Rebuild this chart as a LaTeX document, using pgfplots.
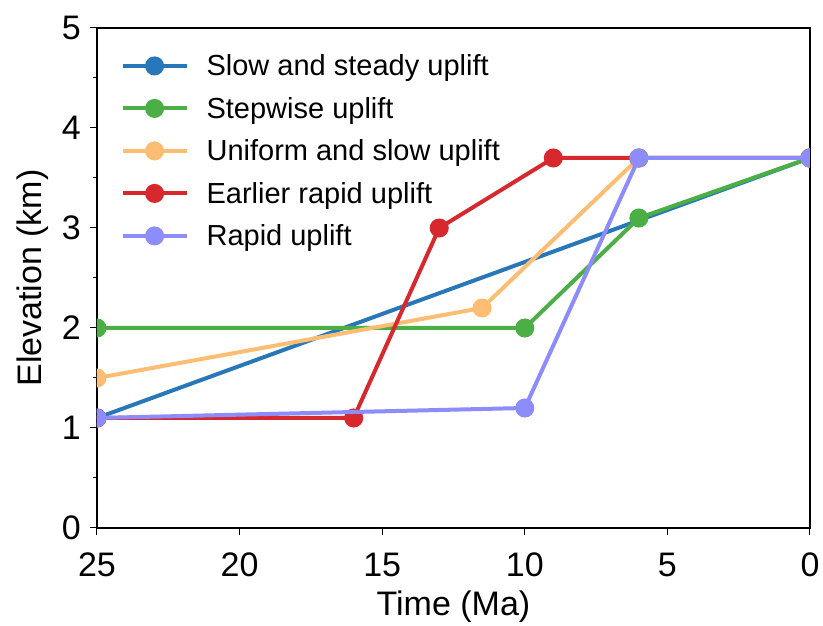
\documentclass[border=0pt]{standalone}
\usepackage{pgfplots}
\pgfplotsset{compat=1.18}
\usepackage{fontspec}
\setmainfont{Liberation Sans}

\definecolor{cslow}{RGB}{40,120,185}
\definecolor{cstep}{RGB}{75,175,70}
\definecolor{cunif}{RGB}{253,190,115}
\definecolor{cearly}{RGB}{214,40,45}
\definecolor{crapid}{RGB}{140,140,250}

\newcommand{\tickfont}{\fontsize{34bp}{40bp}\selectfont}
\newcommand{\legfont}{\fontsize{29bp}{34bp}\selectfont}

\pgfplotsset{clip marker paths=true}

\begin{document}
\begin{tikzpicture}
\begin{axis}[
  scale only axis,
  width=713bp, height=500bp,
  x dir=reverse,
  xmin=0, xmax=25, ymin=0, ymax=5,
  xtick={0,5,10,15,20,25},
  ytick={0,1,2,3,4,5},
  minor ytick={0.5,1.5,2.5,3.5,4.5},
  tick align=outside,
  major tick length=7bp, minor tick length=4bp,
  tick style={black, line width=1bp},
  axis line style={line width=1.2bp},
  xtick pos=bottom, ytick pos=left,
  xlabel={Time (Ma)}, ylabel={Elevation (km)},
  ticklabel style={font=\tickfont},
  xticklabel style={inner xsep=2bp, inner ysep=18bp},
  yticklabel style={inner sep=9bp},
  label style={font=\tickfont},
  xlabel style={yshift=8bp},
  ylabel style={yshift=1bp},
  /pgf/number format/assume math mode=true,
  clip mode=individual,
  clip marker paths=true,
  legend style={draw=none, fill=none, at={(0.03,0.955)}, anchor=north west,
    font=\legfont, row sep=16bp, inner sep=2bp},
  legend cell align=left,
  legend image code/.code={\draw[mark repeat=2,mark phase=2]
    plot coordinates {(0bp,0bp) (32bp,0bp) (64bp,0bp)};
    \path (80bp,0bp);},
  every axis plot/.append style={line width=4bp, mark=*, mark size=7.5bp},
]
\addplot[cslow, mark options={fill=cslow, draw=cslow}] coordinates {(25,1.1) (0,3.7)};
\addlegendentry{Slow and steady uplift}
\addplot[cstep, mark options={fill=cstep, draw=cstep}] coordinates {(25,2.0) (10,2.0) (6,3.1) (0,3.7)};
\addlegendentry{Stepwise uplift}
\addplot[cunif, mark options={fill=cunif, draw=cunif}] coordinates {(25,1.5) (11.5,2.2) (6,3.7) (0,3.7)};
\addlegendentry{Uniform and slow uplift}
\addplot[cearly, mark options={fill=cearly, draw=cearly}] coordinates {(25,1.1) (16,1.1) (13,3.0) (9,3.7) (6,3.7) (0,3.7)};
\addlegendentry{Earlier rapid uplift}
\addplot[crapid, mark options={fill=crapid, draw=crapid}] coordinates {(25,1.1) (10,1.2) (6,3.7) (0,3.7)};
\addlegendentry{Rapid uplift}
\end{axis}
% white margin around the plot
\path ([xshift=-97bp,yshift=28bp]current axis.north west)
      ([xshift=13bp,yshift=-93bp]current axis.south east);
\end{tikzpicture}
\end{document}
